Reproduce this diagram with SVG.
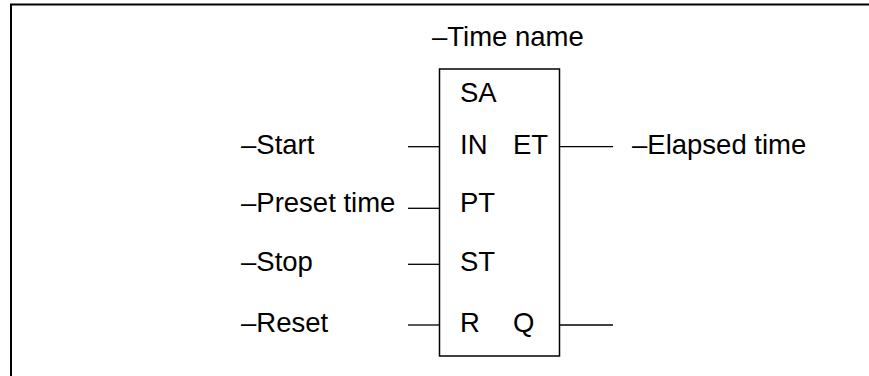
<svg xmlns="http://www.w3.org/2000/svg" width="869" height="376" viewBox="0 0 869 376">
<style>
text{font-family:"Liberation Sans",Arial,sans-serif;font-size:27.5px;fill:#000}
.ln{stroke:#000;stroke-width:1.3;fill:none}
</style>
<rect x="0" y="0" width="869" height="376" fill="#fff"/>
<path d="M11 380 V4.5 H875" fill="none" stroke="#000" stroke-width="2"/>
<text x="432" y="46">–Time name</text>
<g id="timer">
<rect x="439.5" y="69" width="120" height="287" fill="none" stroke="#000" stroke-width="1.5"/>
<text x="460" y="102">SA</text>
<text x="460" y="153.5">IN</text>
<text x="513" y="153.5">ET</text>
<text x="460" y="212">PT</text>
<text x="460" y="270.5">ST</text>
<text x="460" y="332">R</text>
<text x="513" y="332">Q</text>
</g>
<g id="start"><text x="241" y="153.5">–Start</text></g>
<g id="preset"><text x="241" y="212">–Preset time</text></g>
<g id="stop"><text x="241" y="270.5">–Stop</text></g>
<g id="reset"><text x="241" y="332">–Reset</text></g>
<g id="elapsed"><text x="632" y="153.5">–Elapsed time</text></g>
<g id="connectors" class="ln">
<line x1="408" y1="146.7" x2="440" y2="146.7"/>
<line x1="408" y1="208.3" x2="440" y2="208.3"/>
<line x1="408" y1="264.3" x2="440" y2="264.3"/>
<line x1="408" y1="325" x2="440" y2="325"/>
<line x1="559" y1="146.7" x2="613" y2="146.7"/>
<line x1="559" y1="325" x2="613" y2="325"/>
</g>
</svg>
